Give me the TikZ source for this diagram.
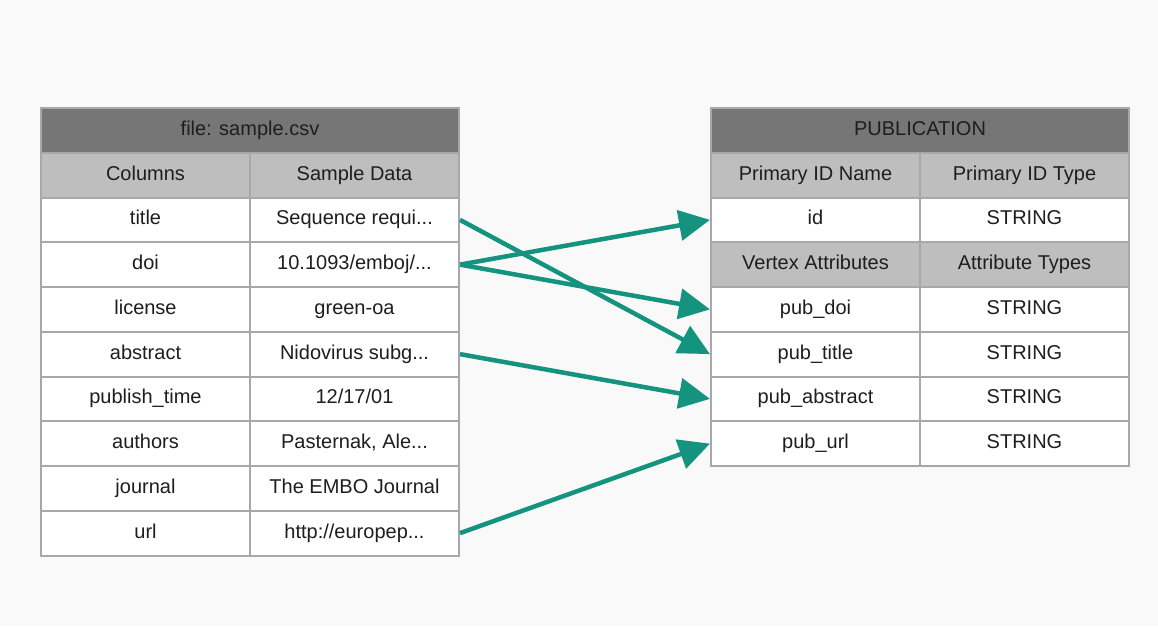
\documentclass[tikz,border=0pt]{standalone}
\usepackage{fontspec}
\setmainfont{Liberation Sans}
\usetikzlibrary{arrows.meta}
\definecolor{bg}{HTML}{F9F9F9}
\definecolor{bordergray}{HTML}{A8A8A8}
\definecolor{darkhead}{HTML}{767676}
\definecolor{lighthead}{HTML}{BEBEBE}
\definecolor{teal}{HTML}{14937F}
\definecolor{ink}{HTML}{1E1E1E}
\tikzset{
  cell/.style={draw=bordergray, line width=2pt, fill=white, minimum width=209pt,
    minimum height=44.75pt, inner sep=0pt, anchor=north west, text=ink,
    text height=14pt, text depth=4pt,
    font=\fontsize{20}{24}\selectfont},
  colhead/.style={cell, fill=lighthead},
  tablehead/.style={cell, fill=darkhead, minimum width=418pt},
  link/.style={draw=teal, line width=4.5pt, -{Triangle[length=31pt,width=30pt]}}
}
\begin{document}
\begin{tikzpicture}[x=1pt,y=-1pt]
\fill[bg] (0,0) rectangle (1158,626);
\useasboundingbox (0,0) rectangle (1158,626);
% left table
\node[tablehead] (lhead) at (40,107) {file: sample.csv};
\node[colhead] (lc1) at (40,151.75) {Columns};
\node[colhead] (lc2) at (249,151.75) {Sample Data};
\node[cell] (ltitle) at (40,196.5) {title};
\node[cell] (ltitlev) at (249,196.5) {Sequence requi...};
\node[cell] (ldoi) at (40,241.25) {doi};
\node[cell] (ldoiv) at (249,241.25) {10.1093/emboj/...};
\node[cell] (llic) at (40,286) {license};
\node[cell] (llicv) at (249,286) {green-oa};
\node[cell] (labs) at (40,330.75) {abstract};
\node[cell] (labsv) at (249,330.75) {Nidovirus subg...};
\node[cell] (lpub) at (40,375.5) {publish\_time};
\node[cell] (lpubv) at (249,375.5) {12/17/01};
\node[cell] (lauth) at (40,420.25) {authors};
\node[cell] (lauthv) at (249,420.25) {Pasternak, Ale...};
\node[cell] (ljour) at (40,465) {journal};
\node[cell] (ljourv) at (249,465) {The EMBO Journal};
\node[cell] (lurl) at (40,509.75) {url};
\node[cell] (lurlv) at (249,509.75) {http://europep...};
% right table
\node[tablehead] (rhead) at (710,107) {PUBLICATION};
\node[colhead] (rc1) at (710,151.75) {Primary ID Name};
\node[colhead] (rc2) at (919,151.75) {Primary ID Type};
\node[cell] (rid) at (710,196.5) {id};
\node[cell] (ridt) at (919,196.5) {STRING};
\node[colhead] (rv1) at (710,241.25) {Vertex Attributes};
\node[colhead] (rv2) at (919,241.25) {Attribute Types};
\node[cell] (rdoi) at (710,286) {pub\_doi};
\node[cell] (rdoit) at (919,286) {STRING};
\node[cell] (rtitle) at (710,330.75) {pub\_title};
\node[cell] (rtitlet) at (919,330.75) {STRING};
\node[cell] (rabs) at (710,375.5) {pub\_abstract};
\node[cell] (rabst) at (919,375.5) {STRING};
\node[cell] (rurl) at (710,420.25) {pub\_url};
\node[cell] (rurlt) at (919,420.25) {STRING};
% connectors
\draw[link] (ltitlev.east) -- (rtitle.west);
\draw[link] (ldoiv.east) -- (rid.west);
\draw[link] (ldoiv.east) -- (rdoi.west);
\draw[link] (labsv.east) -- (rabs.west);
\draw[link] (lurlv.east) -- (rurl.west);
\end{tikzpicture}
\end{document}
